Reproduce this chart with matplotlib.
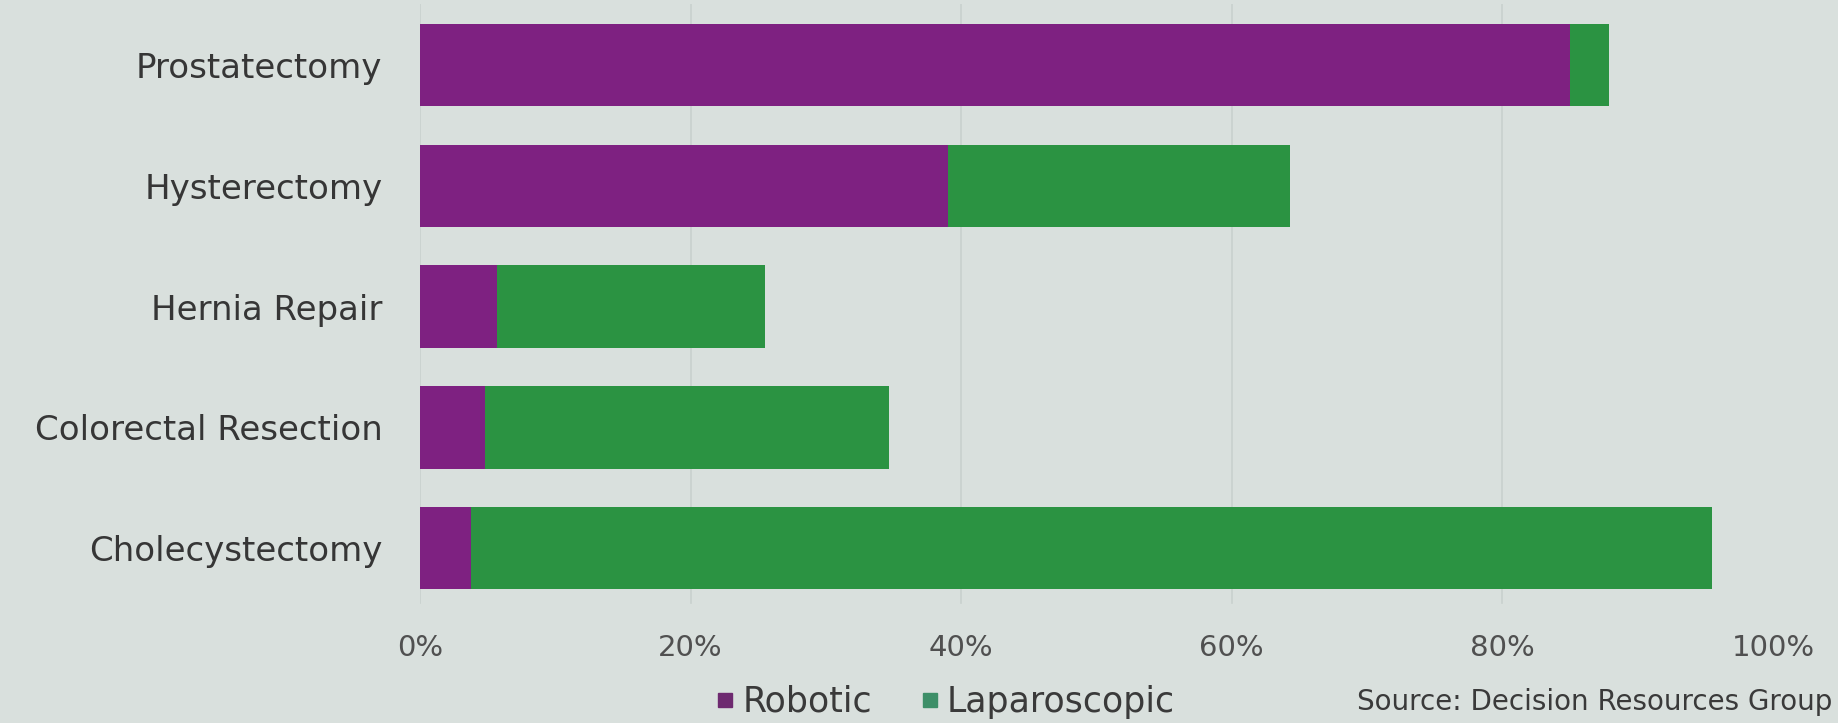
import numpy as np
import matplotlib
matplotlib.use("Agg")
import matplotlib.pyplot as plt
from matplotlib.lines import Line2D

plt.rc('font', family='DejaVu Sans')

# share of procedures by approach (%)
procedures = ["Cholecystectomy", "Colorectal Resection", "Hernia Repair",
              "Hysterectomy", "Prostatectomy"]
robotic = [3.8, 4.8, 5.7, 39.0, 85.0]
laparoscopic = [91.7, 29.9, 19.8, 25.3, 2.9]
xticks = [0, 20, 40, 60, 80, 100]
xtick_labels = ["0%", "20%", "40%", "60%", "80%", "100%"]

bg = "#d9e0dd"
purple = "#7e2181"
green = "#2b9342"

fig = plt.figure(figsize=(18.38, 7.23), dpi=100, facecolor=bg)
ax = fig.add_axes([0.2285, 0.158, 0.7361, 0.836], facecolor=bg)

y = np.arange(len(procedures))
ax.barh(y, robotic, height=0.68, color=purple, zorder=3)
ax.barh(y, laparoscopic, left=robotic, height=0.68, color=green, zorder=3)

ax.set_xlim(0, 100)
ax.set_ylim(-0.5, 4.5)
ax.set_xticks(xticks)
ax.set_xticklabels(xtick_labels, fontsize=21, color="#505050")
ax.set_yticks(y)
ax.set_yticklabels(procedures, fontsize=24.5, color="#363636")
ax.tick_params(axis='x', length=0, pad=18)
ax.tick_params(axis='y', length=0, pad=27)

# faint vertical gridlines
for gx in xticks[:-1]:
    ax.axvline(gx, ymin=0.01, ymax=1, color="#c9d1ce", linewidth=1.2, zorder=1)

for side in ax.spines.values():
    side.set_visible(False)

handles = [Line2D([], [], marker='s', linestyle='none', markersize=10, color="#6e2a70"),
           Line2D([], [], marker='s', linestyle='none', markersize=10, color="#3d8f68")]
fig.legend(handles, ["Robotic", "Laparoscopic"], loc='center',
           bbox_to_anchor=(946 / 1838, 1 - 702 / 723), ncol=2, frameon=False,
           fontsize=25, handlelength=0.5, handletextpad=0.25, columnspacing=1.4,
           labelcolor="#3a3a3a", borderpad=0.1)

fig.text(1357 / 1838, 1 - 702 / 723, "Source: Decision Resources Group",
         fontsize=20, color="#3a3a3a", ha='left', va='center')

fig.savefig("out.png", dpi=100, facecolor=bg)
